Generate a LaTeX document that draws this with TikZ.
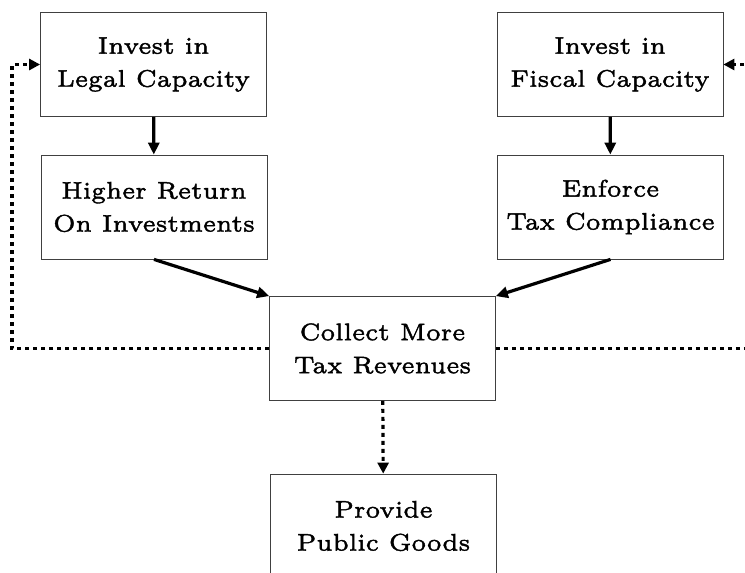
\documentclass[tikz,border=0pt]{standalone}
\usepackage{fontspec}
\newfontfamily\boxfont{lmroman6-regular.otf}[FakeBold=1.6]
\usetikzlibrary{arrows.meta}

\begin{document}
\begin{tikzpicture}[x=1pt, y=-1pt,
    stage/.style={draw=black!75, line width=0.8pt, minimum width=226pt,
      minimum height=104pt, inner sep=0pt, align=center,
      font=\boxfont\fontsize{24}{33}\selectfont},
    flow/.style={line width=3.2pt, -{Triangle[length=12pt, width=11pt]}},
    feedback/.style={line width=3.2pt, dash pattern=on 4pt off 4pt,
      -{Triangle[length=11pt, width=11pt]}}]
  \useasboundingbox (0, 0) rectangle (745, 573);

  \node[stage] (legal)   at (153.5, 64.5)  {Invest in\\Legal Capacity};
  \node[stage] (fiscal)  at (610, 64.5)    {Invest in\\Fiscal Capacity};
  \node[stage] (returns) at (154, 207)     {Higher Return\\On Investments};
  \node[stage] (enforce) at (610.5, 207)   {Enforce\\Tax Compliance};
  \node[stage] (collect) at (382.5, 348.5) {Collect More\\Tax Revenues};
  \node[stage] (goods)   at (383.5, 526)   {Provide\\Public Goods};

  \coordinate (leftrail) at (12, 0);
  \coordinate (rightrail) at (754, 0);

  \draw[flow] (legal) -- (returns);
  \draw[flow] (fiscal) -- (enforce);
  \draw[flow] (returns.south) -- (collect.north west);
  \draw[flow] (enforce.south) -- (collect.north east);

  \draw[feedback] (collect) -- (goods);
  \draw[feedback] (collect.west) -| (leftrail |- legal.west) -- (legal.west);
  \draw[feedback] (collect.east) -| (rightrail |- fiscal.east) -- (fiscal.east);
\end{tikzpicture}
\end{document}
